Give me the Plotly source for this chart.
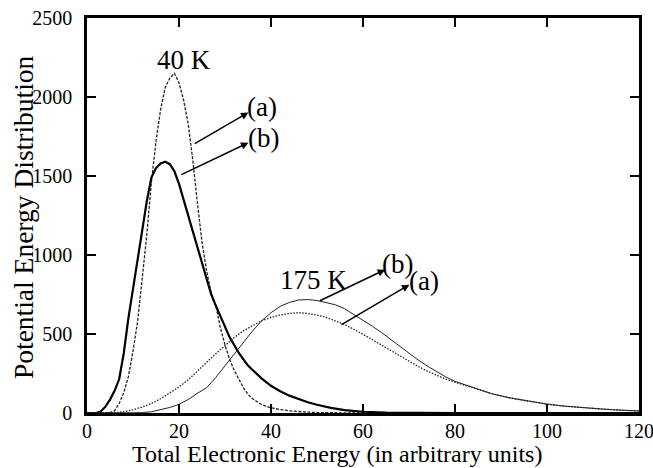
import plotly.graph_objects as go

# 40 K, curve (a) - dashed
x40a = [0, 4, 5, 6, 7, 8, 9, 10, 11, 12, 13, 14, 15, 16, 17, 18, 19, 20, 21, 22, 23, 24, 25, 26, 27, 28,
        29, 30, 31, 32, 33, 34, 35, 36, 38, 40, 42, 44, 47, 50, 55, 60, 120]
y40a = [0, 0, 2, 15, 60, 130, 230, 390, 580, 850, 1130, 1460, 1720, 1920, 2060, 2120, 2150, 2090, 1980,
        1830, 1600, 1330, 1080, 900, 760, 680, 540, 430, 340, 270, 210, 160, 118, 90, 52, 33, 22, 14, 7, 3, 1, 0, 0]

# 40 K, curve (b) - thick solid
x40b = [0, 2, 3, 4, 5, 6, 7, 8, 9, 10, 11, 12, 13, 14, 15, 16, 17, 18, 19, 20, 21, 22, 23, 24, 25, 26, 27,
        28, 29, 30, 31, 32, 33, 34, 35, 36, 38, 40, 42, 44, 46, 48, 50, 53, 56, 60, 65, 70, 80, 120]
y40b = [0, 0, 10, 40, 85, 140, 215, 380, 600, 790, 990, 1170, 1340, 1490, 1550, 1580, 1590, 1575, 1530,
        1450, 1350, 1250, 1140, 1040, 940, 840, 750, 680, 610, 540, 480, 430, 380, 340, 300, 272, 218, 172,
        138, 110, 88, 68, 52, 32, 18, 8, 3, 1, 0, 0]

# 175 K, curve (a) - dotted
x175a = [0, 6, 8, 10, 12, 14, 16, 18, 20, 22, 24, 26, 28, 30, 32, 34, 36, 38, 40, 42, 44, 46, 48, 50, 52,
         54, 56, 58, 60, 62, 64, 66, 68, 70, 72, 74, 76, 78, 80, 84, 88, 92, 96, 100, 104, 108, 112, 116, 120]
y175a = [0, 2, 8, 20, 38, 60, 90, 125, 165, 210, 262, 320, 375, 428, 478, 520, 555, 585, 605, 620, 630,
         635, 630, 620, 605, 585, 560, 530, 500, 465, 430, 395, 360, 325, 295, 265, 238, 214, 195, 158, 122,
         95, 74, 56, 43, 33, 25, 18, 13]

# 175 K, curve (b) - thin solid
x175b = [0, 10, 12, 14, 16, 18, 20, 22, 24, 26, 28, 30, 32, 34, 36, 38, 40, 42, 44, 46, 48, 50, 52, 54, 56,
         58, 60, 62, 64, 66, 68, 70, 72, 74, 76, 78, 80, 84, 88, 92, 96, 100, 104, 108, 112, 116, 120]
y175b = [0, 0, 2, 8, 20, 35, 55, 85, 125, 160, 225, 300, 370, 445, 520, 585, 635, 675, 700, 715, 718, 712,
         700, 685, 660, 625, 590, 550, 510, 465, 420, 378, 335, 297, 262, 228, 200, 160, 122, 95, 74, 56, 43,
         33, 25, 18, 13]

x_ticks = [0, 20, 40, 60, 80, 100, 120]
y_ticks = [0, 500, 1000, 1500, 2000, 2500]

FONT = "Liberation Serif, Times New Roman, serif"

fig = go.Figure()
fig.add_trace(go.Scatter(x=x40a, y=y40a, mode="lines",
                         line=dict(color="#222", width=1.3, dash="3px,1.5px")))
fig.add_trace(go.Scatter(x=x40b, y=y40b, mode="lines",
                         line=dict(color="black", width=2.2)))
fig.add_trace(go.Scatter(x=x175a, y=y175a, mode="lines",
                         line=dict(color="#222", width=1.3, dash="1.5px,1.5px")))
fig.add_trace(go.Scatter(x=x175b, y=y175b, mode="lines",
                         line=dict(color="#222", width=1.0)))

axis_common = dict(showgrid=False, zeroline=False, showline=True, linecolor="black", linewidth=2.5,
                   mirror="ticks", ticks="inside", ticklen=9, tickwidth=2, tickcolor="black",
                   automargin=False, ticklabeloverflow="allow",
                   tickfont=dict(family=FONT, size=20, color="black"))

fig.update_xaxes(range=[0, 120], tickvals=x_ticks, ticktext=[str(v) for v in x_ticks],
                 ticklabelstandoff=-2, **axis_common)
fig.update_yaxes(range=[0, 2500], tickvals=y_ticks, ticktext=[str(v) for v in y_ticks],
                 ticklabelstandoff=8, **axis_common)

# axis titles
fig.add_annotation(text="Total Electronic Energy (in arbitrary units)", xref="paper", yref="paper",
                   x=0.452, y=-0.104, xanchor="center", yanchor="middle", showarrow=False,
                   font=dict(family=FONT, size=24, color="black"))
fig.add_annotation(text="Potential Energy Distribution", xref="paper", yref="paper",
                   x=-0.116, y=0.496, xanchor="center", yanchor="middle", showarrow=False,
                   textangle=-90, font=dict(family=FONT, size=27.5, color="black"))

ann_font = dict(family=FONT, size=27, color="black")
labels = [
    ("40 K", 21.0, 2234),
    ("(a)", 38.0, 1935),
    ("(b)", 38.3, 1739),
    ("175 K", 49.2, 844),
    ("(b)", 67.6, 945),
    ("(a)", 73.3, 833),
]
for t, lx, ly in labels:
    fig.add_annotation(x=lx, y=ly, text=t, showarrow=False, font=ann_font, xref="x", yref="y")

arrows = [
    ((23.1, 1700), (35.1, 1902)),
    ((20.2, 1504), (35.1, 1711)),
    ((50.3, 706), (64.8, 907)),
    ((55.0, 554), (70.1, 812)),
]
for (tx, ty), (hx, hy) in arrows:
    fig.add_annotation(x=hx, y=hy, ax=tx, ay=ty, axref="x", ayref="y", xref="x", yref="y",
                       text="", showarrow=True, arrowhead=2, arrowsize=1, arrowwidth=1.5,
                       arrowcolor="black", standoff=0, startstandoff=0)

fig.update_layout(width=653, height=468, margin=dict(l=87, r=14, t=18, b=55),
                  plot_bgcolor="white", paper_bgcolor="white", showlegend=False)

fig.write_html("out.html")
